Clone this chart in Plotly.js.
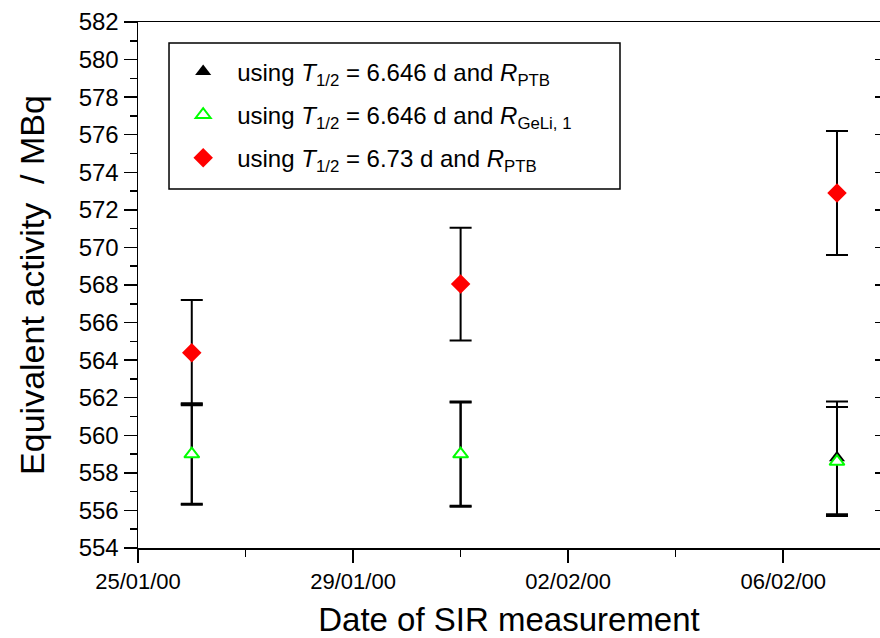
<!DOCTYPE html>
<html>
<head>
<meta charset="utf-8">
<script src="https://cdn.plot.ly/plotly-3.0.1.min.js"></script>
<style>html,body{margin:0;padding:0;background:#fff;overflow:hidden}</style>
</head>
<body>
<div id="chart" style="width:880px;height:638px"></div>
<script>
// Dates of SIR measurement
const dates = ['2000-01-26', '2000-01-31', '2000-02-07'];

// Series: T1/2 = 6.646 d, R_PTB
const ptbValues = [559.0, 559.0, 558.8];
const ptbErrors = [2.7, 2.75, 3.0];

// Series: T1/2 = 6.646 d, R_GeLi,1
const geliValues = [559.0, 559.0, 558.6];
const geliErrors = [2.65, 2.8, 2.9];

// Series: T1/2 = 6.73 d, R_PTB
const ptb673Values = [564.4, 568.05, 572.9];
const ptb673Errors = [2.8, 3.0, 3.3];

const names = [
  'using <i>T</i><sub>1/2</sub> = 6.646 d and <i>R</i><sub>PTB</sub>',
  'using <i>T</i><sub>1/2</sub> = 6.646 d and <i>R</i><sub>GeLi, 1</sub>',
  'using <i>T</i><sub>1/2</sub> = 6.73 d and <i>R</i><sub>PTB</sub>'
];

const font = 'Liberation Sans, Arial, sans-serif';
const err = (a) => ({type: 'data', array: a, visible: true, color: '#000', thickness: 2, width: 11});

const traces = [
  {x: dates, y: ptbValues, error_y: err(ptbErrors), mode: 'markers', type: 'scatter', name: names[0],
   legendgroup: 'a', marker: {symbol: 'triangle-up', size: 14, color: '#000', line: {width: 0}}},
  {x: dates, y: geliValues, error_y: err(geliErrors), mode: 'markers', type: 'scatter', name: names[1],
   legendgroup: 'b', marker: {symbol: 'triangle-up', size: 13, color: '#fff', line: {width: 2, color: '#00ff00'}}},
  {x: dates, y: ptb673Values, error_y: err(ptb673Errors), mode: 'markers', type: 'scatter', name: names[2],
   legendgroup: 'c', marker: {symbol: 'diamond', size: 15, color: '#ff0000', line: {width: 0}}},
  {x: [dates[0]], y: [null], yaxis: 'y2', mode: 'markers', type: 'scatter', showlegend: false, hoverinfo: 'skip'}
];

const layout = {
  width: 880, height: 638,
  margin: {l: 138, r: 0, t: 22, b: 90},
  paper_bgcolor: '#fff', plot_bgcolor: '#fff',
  font: {family: font, color: '#000', size: 22},
  showlegend: true,
  legend: {
    x: 0.042, y: 0.948, xanchor: 'left', yanchor: 'top',
    bgcolor: 'rgba(0,0,0,0)', borderwidth: 0,
    font: {family: font, size: 24, color: '#000'},
    tracegroupgap: 9, itemwidth: 58
  },
  shapes: [
    {type: 'rect', xref: 'paper', yref: 'paper', x0: 0.0418, x1: 0.6496, y0: 0.6825, y1: 0.960,
     line: {color: '#000', width: 1.5}, fillcolor: '#fff', layer: 'above'}
  ],
  xaxis: {
    type: 'date',
    range: ['2000-01-25', '2000-02-07 19:12'],
    tick0: '2000-01-25', dtick: 4 * 86400000, tickformat: '%d/%m/%y',
    ticks: 'outside', ticklen: 13, tickwidth: 1.5, tickcolor: '#000',
    minor: {dtick: 2 * 86400000, ticks: 'outside', ticklen: 7, tickwidth: 1.5, tickcolor: '#000', showgrid: false},
    showline: true, linecolor: '#000', linewidth: 1.5, mirror: true,
    showgrid: false, zeroline: false,
    tickfont: {family: font, size: 22},
    title: {text: 'Date of SIR measurement', font: {family: font, size: 33}, standoff: 32}
  },
  yaxis: {
    range: [554, 582], dtick: 2, tick0: 554,
    ticks: 'outside', ticklen: 13, tickwidth: 1.5, tickcolor: '#000',
    minor: {dtick: 1, ticks: 'outside', ticklen: 7, tickwidth: 1.5, tickcolor: '#000', showgrid: false},
    showline: true, linecolor: '#000', linewidth: 1.5,
    showgrid: false, zeroline: false,
    tickfont: {family: font, size: 24},
    title: {text: 'Equivalent activity  / MBq', font: {family: font, size: 34}, standoff: 24}
  },
  yaxis2: {
    overlaying: 'y', side: 'right', range: [554, 582], dtick: 2, tick0: 554,
    ticks: 'inside', ticklen: 5, tickwidth: 1.5, tickcolor: '#000',
    showticklabels: false, showline: false, showgrid: false, zeroline: false
  }
};

Plotly.newPlot('chart', traces, layout, {displayModeBar: false, staticPlot: true});
</script>
</body>
</html>
